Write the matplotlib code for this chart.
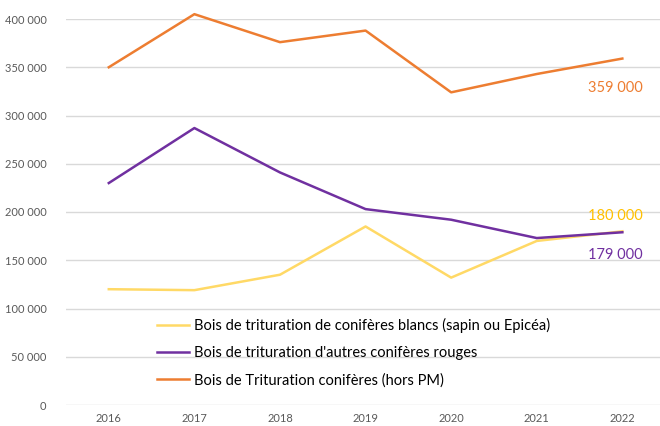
import matplotlib
matplotlib.use("Agg")
import matplotlib.pyplot as plt
from matplotlib.ticker import FuncFormatter

plt.rcParams['font.family'] = ['Lato', 'DejaVu Sans']

years = ['2016', '2017', '2018', '2019', '2020', '2021', '2022']
blancs = [120000, 119000, 135000, 185000, 132000, 170000, 180000]
rouges = [230000, 287000, 241000, 203000, 192000, 173000, 179000]
total = [350000, 405000, 376000, 388000, 324000, 343000, 359000]

labels = ["Bois de trituration de conifères blancs (sapin ou Epicéa)",
          "Bois de trituration d'autres conifères rouges",
          "Bois de Trituration conifères (hors PM)"]
end_labels = ['180 000', '179 000', '359 000']

c_yellow = '#FFD966'
c_purple = '#7030A0'
c_orange = '#ED7D31'

fig = plt.figure(figsize=(6.6, 4.26), dpi=100)
ax = fig.add_axes([66/660, 21/426, 594/660, 386/426])

x = list(range(len(years)))
ax.plot(x, blancs, color=c_yellow, lw=1.8, label=labels[0], clip_on=False)
ax.plot(x, rouges, color=c_purple, lw=1.8, label=labels[1], clip_on=False)
ax.plot(x, total, color=c_orange, lw=1.8, label=labels[2], clip_on=False)

ax.set_xlim(-0.5, 6.44)
ax.set_ylim(0, 400000)
ax.set_yticks(range(0, 400001, 50000))
ax.yaxis.set_major_formatter(FuncFormatter(lambda v, p: f"{int(v):,}".replace(',', ' ')))
ax.set_xticks(x)
ax.set_xticklabels(years)
ax.tick_params(length=0, labelsize=8, colors='#595959', pad=6)
ax.tick_params(axis='y', pad=14)
for s in ax.spines.values():
    s.set_visible(False)
ax.grid(axis='y', color='#D9D9D9', lw=1)
ax.set_axisbelow(True)

# end labels
ax.annotate(end_labels[2], (6, total[6]), xytext=(-5, -21.5), textcoords='offset points',
            color=c_orange, fontsize=10.5, ha='center', va='center')
ax.annotate(end_labels[0], (6, blancs[6]), xytext=(-5, 11), textcoords='offset points',
            color='#FFC000', fontsize=10.5, ha='center', va='center')
ax.annotate(end_labels[1], (6, rouges[6]), xytext=(-5, -16.5), textcoords='offset points',
            color=c_purple, fontsize=10.5, ha='center', va='center')

ax.legend(loc='upper left', bbox_to_anchor=(153/660, 1 - 314/426), bbox_transform=fig.transFigure,
          frameon=False, fontsize=10.5, handlelength=2.2, handletextpad=0.3,
          labelspacing=0.88, borderpad=0.3, borderaxespad=0)

fig.savefig('out.png', dpi=100)
